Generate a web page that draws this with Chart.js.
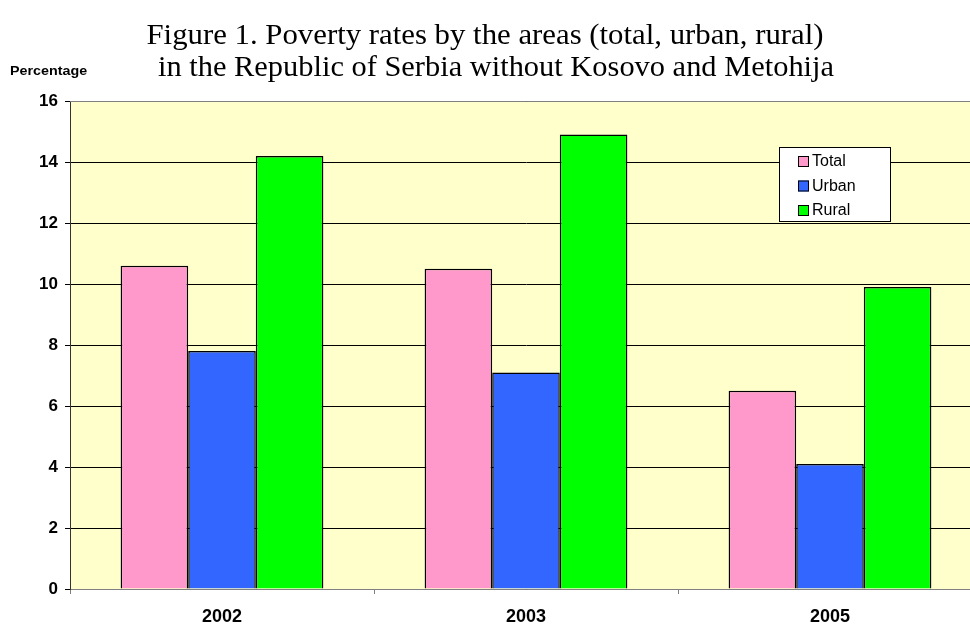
<!DOCTYPE html>
<html>
<head>
<meta charset="utf-8">
<script src="https://cdn.jsdelivr.net/npm/chart.js@4/dist/chart.umd.min.js"></script>
<style>
  html, body { margin: 0; padding: 0; background: #ffffff; overflow: hidden; }
  #wrap { position: relative; width: 990px; height: 626px; }
</style>
</head>
<body>
<div id="wrap"><canvas id="povertyChart" width="990" height="626"></canvas></div>
<script>
// Chart data
const years = ['2002', '2003', '2005'];
const totalRates = [10.6, 10.5, 6.5];
const urbanRates = [7.8, 7.1, 4.1];
const ruralRates = [14.2, 14.9, 9.9];
const yTicks = [0, 2, 4, 6, 8, 10, 12, 14, 16];

const titleLines = [
  'Figure 1. Poverty rates by the areas (total, urban, rural)',
  'in the Republic of Serbia without Kosovo and Metohija'
];

// draw text squeezed/stretched to a given width
function fitText(ctx, text, cx, cy, width) {
  const w = ctx.measureText(text).width;
  ctx.save();
  ctx.translate(cx, cy);
  ctx.scale(width / w, 1);
  ctx.fillText(text, 0, 0);
  ctx.restore();
}

// Plot background, titles and the boxed legend
const decorPlugin = {
  id: 'decor',
  beforeDraw(chart) {
    const { ctx, chartArea } = chart;
    ctx.save();
    ctx.fillStyle = '#FFFFCC';
    ctx.fillRect(chartArea.left, chartArea.top, chartArea.right - chartArea.left, chartArea.bottom - chartArea.top);
    ctx.restore();
  },
  afterDraw(chart) {
    const { ctx, chartArea } = chart;
    ctx.save();

    // Main title
    ctx.fillStyle = '#000';
    ctx.font = '30px "Liberation Serif", "Times New Roman", serif';
    ctx.textAlign = 'center';
    ctx.textBaseline = 'middle';
    fitText(ctx, titleLines[0], 485, 36, 677);
    fitText(ctx, titleLines[1], 496, 68, 676);

    // Axis caption
    ctx.font = 'bold 13px "Liberation Sans", Arial, sans-serif';
    ctx.textAlign = 'left';
    ctx.save();
    ctx.translate(10, 71);
    ctx.scale(1.1, 1);
    ctx.fillText('Percentage', 0, 0);
    ctx.restore();

    // Grey frame on top and right
    ctx.strokeStyle = '#808080';
    ctx.lineWidth = 1;
    ctx.beginPath();
    ctx.moveTo(chartArea.left, chartArea.top + 0.5);
    ctx.lineTo(chartArea.right + 0.5, chartArea.top + 0.5);
    ctx.lineTo(chartArea.right + 0.5, chartArea.bottom);
    ctx.stroke();

    // Legend box
    const lx = 779, ly = 147, lw = 111, lh = 74;
    ctx.fillStyle = '#ffffff';
    ctx.fillRect(lx, ly, lw, lh);
    ctx.strokeStyle = '#000';
    ctx.strokeRect(lx + 0.5, ly + 0.5, lw, lh);
    ctx.font = '16px "Liberation Sans", Arial, sans-serif';
    chart.data.datasets.forEach((ds, i) => {
      const cy = 161 + i * 24.5;
      ctx.fillStyle = ds.backgroundColor;
      ctx.fillRect(798, cy - 5, 11, 11);
      ctx.strokeStyle = '#000';
      ctx.strokeRect(798.5, cy - 4.5, 10, 10);
      ctx.fillStyle = '#000';
      ctx.textAlign = 'left';
      ctx.textBaseline = 'middle';
      ctx.fillText(ds.label, 812, cy + 1);
    });
    ctx.restore();
  }
};

const ctx = document.getElementById('povertyChart');
new Chart(ctx, {
  type: 'bar',
  data: {
    labels: years,
    datasets: [
      { label: 'Total', data: totalRates, backgroundColor: '#FF99CC', borderColor: '#000', borderWidth: 1.5 },
      { label: 'Urban', data: urbanRates, backgroundColor: '#3366FF', borderColor: '#000', borderWidth: 1.5 },
      { label: 'Rural', data: ruralRates, backgroundColor: '#00FF00', borderColor: '#000', borderWidth: 1.5 }
    ]
  },
  options: {
    responsive: false,
    animation: false,
    devicePixelRatio: 1,
    categoryPercentage: 0.667,
    barPercentage: 1.0,
    layout: {
      padding: { top: 101, right: 8, left: 0, bottom: 0 }
    },
    scales: {
      x: {
        afterFit(scale) { scale.height = 37; },
        grid: {
          offset: true,
          drawOnChartArea: false,
          color: '#808080',
          tickLength: 5
        },
        border: { color: '#808080' },
        ticks: {
          color: '#000',
          padding: 12,
          font: { family: '"Liberation Sans", Arial, sans-serif', size: 18, weight: 'bold' }
        }
      },
      y: {
        min: 0,
        max: 16,
        afterFit(scale) { scale.width = 70; },
        afterBuildTicks(scale) { scale.ticks = yTicks.map(v => ({ value: v })); },
        grid: {
          color: '#000',
          tickColor: '#000',
          tickLength: 5
        },
        border: { color: '#333' },
        ticks: {
          color: '#000',
          padding: 7,
          font: { family: '"Liberation Sans", Arial, sans-serif', size: 17, weight: 'bold' }
        }
      }
    },
    plugins: {
      legend: { display: false },
      title: { display: false },
      tooltip: { enabled: false }
    }
  },
  plugins: [decorPlugin]
});
</script>
</body>
</html>
